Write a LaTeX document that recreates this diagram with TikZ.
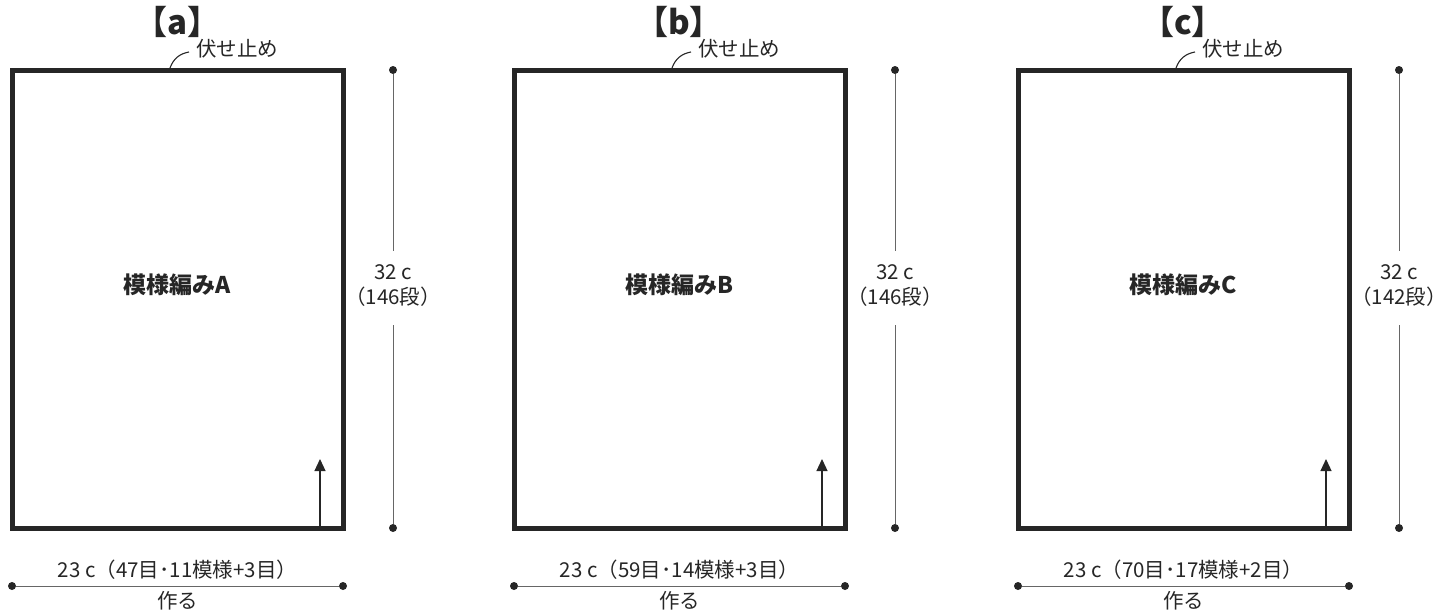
\documentclass[tikz,border=0pt]{standalone}
\usepackage{fontspec}
\newfontfamily\jpfont{Noto Sans CJK JP}
\usetikzlibrary{arrows.meta}

\tikzset{
  knitbox/.style={draw=black!85, line width=5pt, minimum width=331pt, minimum height=458pt, inner sep=0pt},
  dimline/.style={draw=black!60, line width=0.9pt},
  dimdot/.style={circle, fill=black!85, inner sep=0pt, minimum size=8pt},
  dimtext/.style={font=\jpfont\fontsize{20.5}{25}\selectfont, text=black!85, inner sep=1pt},
}

\begin{document}
\begin{tikzpicture}[x=1pt, y=-1pt]

  \useasboundingbox (0,0) rectangle (1447,613);

  \foreach \i/\ox/\lab/\rows/\sts in {a/0/A/146/47目･11模様+3目, b/502/B/146/59目･14模様+3目, c/1006/C/142/70目･17模様+2目} {
    \begin{scope}[xshift=\ox pt]

      % Define nodes
      \node[knitbox]                        (box\i)   at (177.5,299) {};
      \node[font=\jpfont\fontsize{23}{26}\selectfont\bfseries, text=black!85] (pat\i) at (177.5,285) {模様編み\lab};
      \node[font=\jpfont\fontsize{33}{36}\selectfont\bfseries, text=black!85] (title\i) at (177,22) {【\i】};
      \node[dimtext, anchor=west]           (bind\i)  at (195,49) {伏せ止め};
      \coordinate                           (bindend\i) at (170,68);
      \coordinate                           (bindtip\i) at (189,52);

      % Height
      \node[dimdot]                         (ht\i)    at (393,70) {};
      \node[dimdot]                         (hb\i)    at (393,528) {};
      \node[dimtext, align=center]          (hl\i)    at (393,286) {32 c\\（\rows 段）};

      % Width
      \node[dimdot]                         (wl\i)    at (12,586) {};
      \node[dimdot]                         (wr\i)    at (343,586) {};
      \node[dimtext]                        (wt\i)    at (177.5,570) {23 c（\sts）};
      \node[dimtext]                        (wb\i)    at (177.5,601) {作る};

      % Direction of knitting
      \coordinate                           (arb\i)   at (320,526);
      \coordinate                           (art\i)   at (320,459);

      % Connect the nodes
      \draw[dimline] (ht\i) -- (hl\i.north |- 0,251);
      \draw[dimline] (hl\i.south |- 0,325) -- (hb\i);
      \draw[dimline] (wl\i) -- (wr\i);
      \draw[black!85, line width=1.1pt] (bindend\i) to[bend left=30] (bindtip\i);
      \draw[black!85, line width=1.2pt, -{Triangle[width=11pt, length=12pt]}] (arb\i) -- (art\i);

    \end{scope}
  }

\end{tikzpicture}
\end{document}
